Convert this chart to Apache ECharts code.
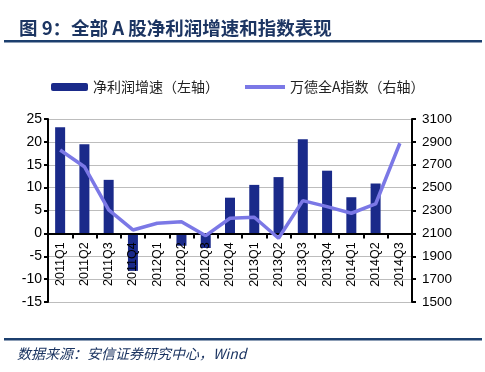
<!DOCTYPE html>
<html><head><meta charset="utf-8">
<script src="https://cdn.jsdelivr.net/npm/echarts@6/dist/echarts.min.js"></script>
<style>html,body{margin:0;padding:0;background:#fff}#c{width:485px;height:372px}</style>
</head><body><div id="c"></div>
<script>
const categories = ['2011Q1','2011Q2','2011Q3','2011Q4','2012Q1','2012Q2','2012Q3','2012Q4','2013Q1','2013Q2','2013Q3','2013Q4','2014Q1','2014Q2','2014Q3'];
const profitGrowth = [23.2, 19.5, 11.7, -8.2, null, -2.7, -3.2, 7.8, 10.6, 12.3, 20.6, 13.7, 7.9, 10.9, null];
const windAIndex = [2829, 2683, 2305, 2130, 2188, 2202, 2080, 2232, 2241, 2057, 2386, 2334, 2276, 2357, 2888];
const leftTicks = {min: -15, max: 25, interval: 5};
const rightTicks = {min: 1500, max: 3100, interval: 200};
const barName = '净利润增速（左轴）';
const lineName = '万德全A指数（右轴）';

const navy = '#1a2a8a';
const lav = '#7b78e6';
const gridTop = 119, gridBottom = 70, H = 372;
const plotH = H - gridTop - gridBottom;
// distance from grid bottom up to the value 0 on the left axis
const zeroOffset = plotH * (0 - leftTicks.min) / (leftTicks.max - leftTicks.min);

const chart = echarts.init(document.getElementById('c'));
chart.setOption({
  animation: false,
  backgroundColor: '#fff',
  title: {
    text: '图 9：全部 A 股净利润增速和指数表现',
    left: 14, top: 14,
    textStyle: {fontSize: 18.5, fontWeight: 'bold', color: '#1c3562', fontFamily: "'Noto Sans CJK SC', sans-serif"}
  },
  graphic: [
    {type: 'rect', shape: {x: 4, y: 40, width: 478, height: 2.5}, style: {fill: '#1c3f6e'}},
    {type: 'rect', shape: {x: 4, y: 338, width: 478, height: 2.5}, style: {fill: '#1c3f6e'}},
    {type: 'text', left: 17, top: 347, style: {text: '数据来源：安信证券研究中心，Wind', fontSize: 14, fontStyle: 'italic', fill: '#1c3562', fontFamily: "'Noto Sans CJK SC', sans-serif"}}
  ],
  legend: [
    {data: [barName], left: 46, top: 75, itemWidth: 37, itemHeight: 8, itemGap: 5,
     textStyle: {fontSize: 14, color: '#222', fontFamily: "'Noto Sans CJK SC', sans-serif"}},
    {data: [{name: lineName, icon: 'rect'}], left: 240, top: 75, itemWidth: 40, itemHeight: 4, itemGap: 5,
     textStyle: {fontSize: 14, color: '#222', fontFamily: "'Noto Sans CJK SC', sans-serif"}}
  ],
  grid: {left: 48, right: 73, top: gridTop, bottom: gridBottom},
  xAxis: {
    type: 'category', data: categories, z: 3, position: 'bottom', offset: -zeroOffset,
    axisLine: {onZero: false, lineStyle: {color: '#000', width: 2}},
    axisTick: {show: true, length: 5, lineStyle: {color: '#000', width: 2}},
    axisLabel: {rotate: 90, margin: 9, fontSize: 12.5, color: '#000', fontFamily: "'Liberation Sans', Arial, sans-serif", interval: 0}
  },
  yAxis: [
    {type: 'value', min: leftTicks.min, max: leftTicks.max, interval: leftTicks.interval, position: 'left',
     axisLine: {show: true, lineStyle: {color: '#000', width: 2}},
     axisTick: {show: true, length: 4, lineStyle: {color: '#000', width: 2}},
     axisLabel: {fontSize: 14, color: '#000', margin: 6, fontFamily: "'Liberation Sans', Arial, sans-serif"},
     splitLine: {show: true, lineStyle: {color: '#bdbdbd', width: 1}}},
    {type: 'value', min: rightTicks.min, max: rightTicks.max, interval: rightTicks.interval, position: 'right',
     axisLine: {show: true, lineStyle: {color: '#000', width: 2}},
     axisTick: {show: true, length: 4, lineStyle: {color: '#000', width: 2}},
     axisLabel: {fontSize: 13.5, color: '#000', margin: 10, fontFamily: "'Liberation Sans', Arial, sans-serif", formatter: v => String(v)},
     splitLine: {show: false}}
  ],
  series: [
    {name: barName, type: 'bar', yAxisIndex: 0, data: profitGrowth, barWidth: 10, itemStyle: {color: navy}},
    {name: lineName, type: 'line', yAxisIndex: 1, data: windAIndex, showSymbol: false, symbol: 'none',
     lineStyle: {color: lav, width: 3.5}, itemStyle: {color: lav}, z: 4}
  ]
});
</script></body></html>
